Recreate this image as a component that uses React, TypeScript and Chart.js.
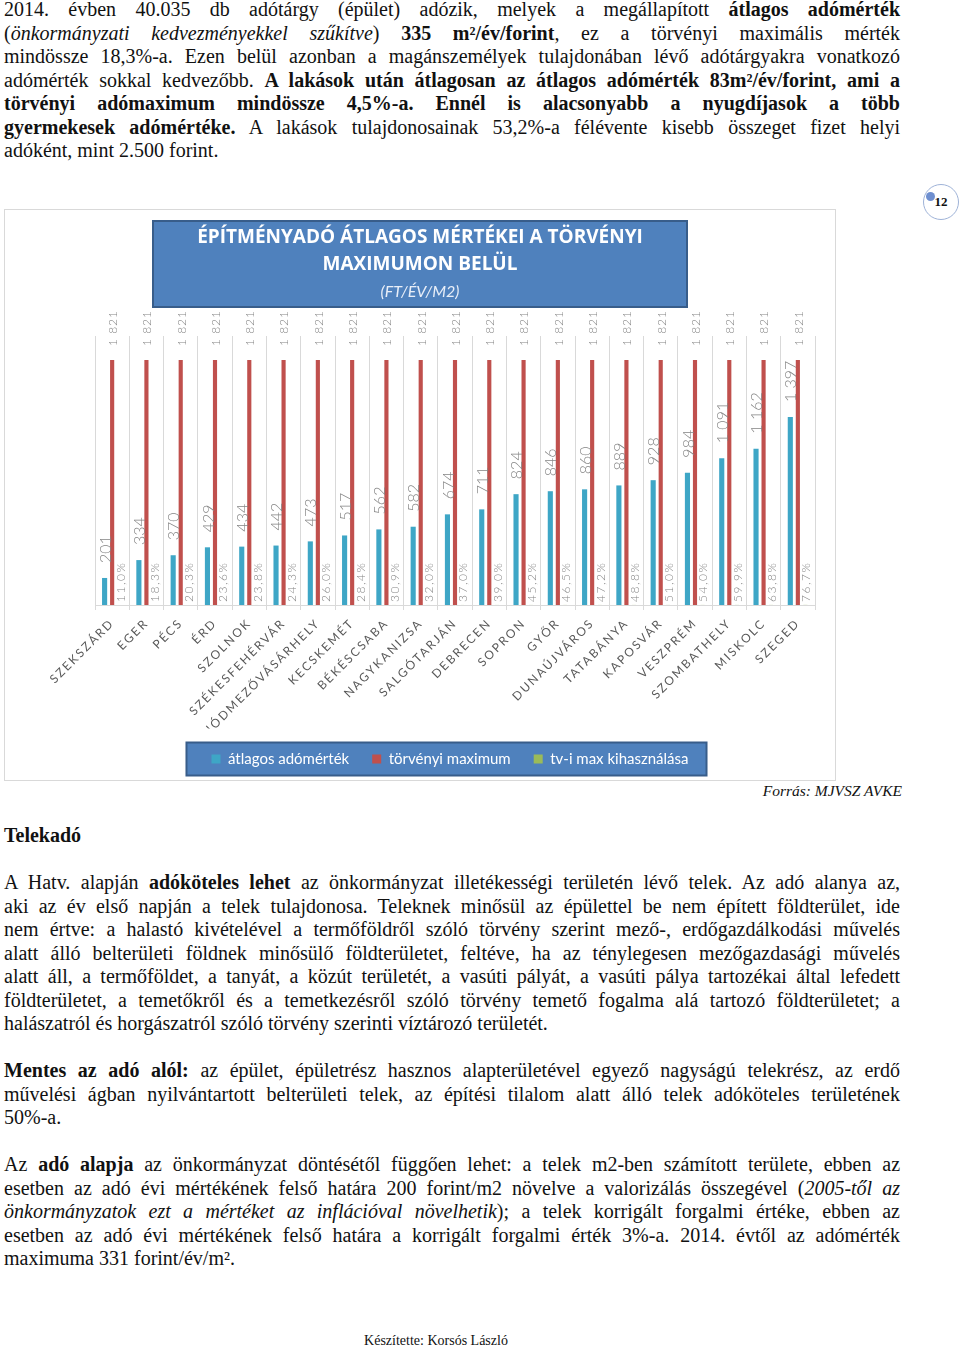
import React, { useEffect, useRef } from "react";
import { Chart, registerables } from "chart.js";

Chart.register(...registerables);

const cities = [
  "SZEKSZÁRD", "EGER", "PÉCS", "ÉRD", "SZOLNOK", "SZÉKESFEHÉRVÁR", "HÓDMEZŐVÁSÁRHELY",
  "KECSKEMÉT", "BÉKÉSCSABA", "NAGYKANIZSA", "SALGÓTARJÁN", "DEBRECEN", "SOPRON", "GYŐR",
  "DUNAÚJVÁROS", "TATABÁNYA", "KAPOSVÁR", "VESZPRÉM", "SZOMBATHELY", "MISKOLC", "SZEGED",
];
const avgRate = [201, 334, 370, 429, 434, 442, 473, 517, 562, 582, 674, 711, 824, 846, 860, 889, 928, 984, 1091, 1162, 1397];
const legalMax = [1821, 1821, 1821, 1821, 1821, 1821, 1821, 1821, 1821, 1821, 1821, 1821, 1821, 1821, 1821, 1821, 1821, 1821, 1821, 1821, 1821];
const utilizationPct = [11.0, 18.3, 20.3, 23.6, 23.8, 24.3, 26.0, 28.4, 30.9, 32.0, 37.0, 39.0, 45.2, 46.5, 47.2, 48.8, 51.0, 54.0, 59.9, 63.8, 76.7];
const seriesNames = ["átlagos adómérték", "törvényi maximum", "tv-i max kihasználása"];
const titleLines = ["ÉPÍTMÉNYADÓ ÁTLAGOS MÉRTÉKEI A TÖRVÉNYI", "MAXIMUMON BELÜL"];
const subtitleText = "(FT/ÉV/M2)";
const yMax = 2000;

const fmtThousands = (n: number) => String(n).replace(/\B(?=(\d{3})+(?!\d))/g, "\u00A0");
const fmtPct = (p: number) => p.toFixed(1).replace(".", ",") + "%";

const decorPlugin = {
  id: "decor",
  beforeDraw(chart: any) {
    const ctx = chart.ctx;
    ctx.letterSpacing = "0px";
    const tb = chart.titleBlock;
    if (tb) {
      const cx = chart.width / 2;
      const top = tb.top;
      const bottom = tb.bottom + 29;
      ctx.save();
      ctx.fillStyle = "#4f81bd";
      ctx.strokeStyle = "#385d8a";
      ctx.lineWidth = 2;
      ctx.fillRect(cx - 267, top, 534, bottom - top);
      ctx.strokeRect(cx - 267, top, 534, bottom - top);
      ctx.restore();
    }
  },
  afterDatasetsDraw(chart: any) {
    const ctx = chart.ctx;
    const area = chart.chartArea;
    chart.data.datasets.forEach((_ds: any, di: number) => {
      const meta = chart.getDatasetMeta(di);
      meta.data.forEach((bar: any, i: number) => {
        let text = "";
        let y = 0;
        let font = "";
        let spacing = "0px";
        if (di === 0) {
          text = fmtThousands(avgRate[i]);
          y = bar.y - 15;
          font = "300 16px Lato";
        } else if (di === 1) {
          text = fmtThousands(legalMax[i]);
          y = bar.y - 14;
          font = "300 12px Lato";
          spacing = "1px";
        } else {
          text = fmtPct(utilizationPct[i]);
          y = area.bottom - 3;
          font = "300 12px Lato";
          spacing = "1.5px";
        }
        ctx.save();
        ctx.translate(bar.x + 1, y);
        ctx.rotate(-Math.PI / 2);
        ctx.font = font;
        ctx.letterSpacing = spacing;
        ctx.fillStyle = "#858585";
        ctx.textAlign = "left";
        ctx.textBaseline = "middle";
        ctx.fillText(text, 0, 0);
        ctx.restore();
      });
    });
    ctx.letterSpacing = "2px";
  },
  afterLayout(chart: any) {
    const lg = chart.legend;
    if (lg) {
      lg.left += 30;
      lg.right += 30;
    }
  },
  afterDraw(chart: any) {
    const ctx = chart.ctx;
    ctx.letterSpacing = "0px";
    const lg = chart.legend;
    if (!lg || !lg.legendHitBoxes || !lg.legendHitBoxes.length) return;
    const hb = lg.legendHitBoxes;
    const left = Math.min(...hb.map((h: any) => h.left)) - 25;
    const right = Math.max(...hb.map((h: any) => h.left + h.width)) + 18;
    const fontSize = 15;
    const cy = lg.top + lg.options.labels.padding + fontSize / 2;
    ctx.save();
    ctx.fillStyle = "#4f81bd";
    ctx.strokeStyle = "#385d8a";
    ctx.lineWidth = 2;
    ctx.fillRect(left, cy - 16.5, right - left, 33);
    ctx.strokeRect(left, cy - 16.5, right - left, 33);
    ctx.restore();
    lg.draw();
  },
};

function ChartBox() {
  const ref = useRef<HTMLCanvasElement>(null);
  useEffect(() => {
    const canvas = ref.current;
    if (!canvas) return;
    const chart = new Chart(canvas, {
      type: "bar",
      data: {
        labels: cities,
        datasets: [
          {
            label: seriesNames[0],
            data: avgRate,
            backgroundColor: "#3ea6c6",
            borderWidth: 0,
            barPercentage: 0.68,
            categoryPercentage: 0.66,
          },
          {
            label: seriesNames[1],
            data: legalMax,
            backgroundColor: "#c0504d",
            borderWidth: 0,
            barPercentage: 0.55,
            categoryPercentage: 0.66,
          },
          {
            label: seriesNames[2],
            data: utilizationPct.map((p) => p / 100),
            backgroundColor: "#9bbb59",
            borderWidth: 0,
            barPercentage: 0.55,
            categoryPercentage: 0.66,
          },
        ],
      },
      options: {
        responsive: false,
        maintainAspectRatio: false,
        animation: false,
        events: [],
        layout: { padding: { top: 11, bottom: 3.5, left: 0, right: 0 } },
        scales: {
          x: {
            grid: { color: "#d9d9d9", offset: true, tickLength: 5, drawTicks: true },
            border: { color: "#d9d9d9" },
            ticks: {
              z: 1,
              color: "#595959",
              font: { family: "Lato", size: 12 },
              minRotation: 45,
              maxRotation: 45,
              autoSkip: false,
              padding: 6,
            },
            afterFit(scale: any) {
              scale.height = 123.5;
              scale.paddingLeft = 90;
              scale.paddingRight = 20;
            },
          },
          y: {
            display: false,
            min: 0,
            max: yMax,
          },
        },
        plugins: {
          tooltip: { enabled: false },
          title: {
            display: true,
            text: titleLines,
            color: "#ffffff",
            font: { family: "Open Sans", size: 19, weight: "bold", lineHeight: 27 / 19 },
            padding: { top: 3, bottom: 0 },
          },
          subtitle: {
            display: true,
            text: subtitleText,
            color: "#e8eef8",
            font: { family: "Lato", size: 16, style: "italic", lineHeight: 1.25 },
            padding: { top: 4, bottom: 34 },
          },
          legend: {
            display: true,
            position: "bottom",
            labels: {
              color: "#ffffff",
              font: { family: "Lato", size: 15 },
              boxWidth: 9,
              boxHeight: 9,
              padding: 23,
            },
          },
        },
      } as any,
      plugins: [decorPlugin as any],
    });
    return () => chart.destroy();
  }, []);
  return <canvas ref={ref} width={830} height={570} style={{ display: "block", width: 830, height: 570 }} />;
}

const LH = 23.5;

function Para({ top, lines }: { top: number; lines: React.ReactNode[] }) {
  return (
    <div style={{ position: "absolute", left: 4, top, width: 896 }}>
      {lines.map((ln, i) => (
        <div
          key={i}
          style={{
            height: LH,
            lineHeight: LH + "px",
            textAlign: "justify",
            textAlignLast: i === lines.length - 1 ? "left" : "justify",
          } as any}
        >
          {ln}
        </div>
      ))}
    </div>
  );
}

export default function App() {
  const p1 = [
    <>2014. évben 40.035 db adótárgy (épület) adózik, melyek a megállapított <b>átlagos adómérték</b></>,
    <>(<i>önkormányzati kedvezményekkel szűkítve</i>) <b>335 m²/év/forint</b>, ez a törvényi maximális mérték</>,
    <>mindössze 18,3%-a. Ezen belül azonban a magánszemélyek tulajdonában lévő adótárgyakra vonatkozó</>,
    <>adómérték sokkal kedvezőbb. <b>A lakások után átlagosan az átlagos adómérték 83m²/év/forint, ami a</b></>,
    <><b>törvényi adómaximum mindössze 4,5%-a. Ennél is alacsonyabb a nyugdíjasok a több</b></>,
    <><b>gyermekesek adómértéke.</b> A lakások tulajdonosainak 53,2%-a félévente kisebb összeget fizet helyi</>,
    <>adóként, mint 2.500 forint.</>,
  ];
  const p2 = [
    <>A Hatv. alapján <b>adóköteles lehet</b> az önkormányzat illetékességi területén lévő telek. Az adó alanya az,</>,
    <>aki az év első napján a telek tulajdonosa. Teleknek minősül az épülettel be nem épített földterület, ide</>,
    <>nem értve: a halastó kivételével a termőföldről szóló törvény szerint mező-, erdőgazdálkodási művelés</>,
    <>alatt álló belterületi földnek minősülő földterületet, feltéve, ha az ténylegesen mezőgazdasági művelés</>,
    <>alatt áll, a termőföldet, a tanyát, a közút területét, a vasúti pályát, a vasúti pálya tartozékai által lefedett</>,
    <>földterületet, a temetőkről és a temetkezésről szóló törvény temető fogalma alá tartozó földterületet; a</>,
    <>halászatról és horgászatról szóló törvény szerinti víztározó területét.</>,
  ];
  const p3 = [
    <><b>Mentes az adó alól:</b> az épület, épületrész hasznos alapterületével egyező nagyságú telekrész, az erdő</>,
    <>művelési ágban nyilvántartott belterületi telek, az építési tilalom alatt álló telek adóköteles területének</>,
    <>50%-a.</>,
  ];
  const p4 = [
    <>Az <b>adó alapja</b> az önkormányzat döntésétől függően lehet: a telek m2-ben számított területe, ebben az</>,
    <>esetben az adó évi mértékének felső határa 200 forint/m2 növelve a valorizálás összegével (<i>2005-től az</i></>,
    <><i>önkormányzatok ezt a mértéket az inflációval növelhetik</i>); a telek korrigált forgalmi értéke, ebben az</>,
    <>esetben az adó évi mértékének felső határa a korrigált forgalmi érték 3%-a. 2014. évtől az adómérték</>,
    <>maximuma 331 forint/év/m².</>,
  ];
  return (
    <div
      style={{
        position: "absolute",
        left: 0,
        top: 0,
        width: 960,
        height: 1347,
        overflow: "hidden",
        background: "#ffffff",
        color: "#111",
        fontFamily: '"Liberation Serif", serif',
        fontSize: 20,
      }}
    >
      <Para top={-2} lines={p1} />

      <div
        style={{
          position: "absolute",
          left: 4,
          top: 209,
          width: 832,
          height: 572,
          border: "1px solid #d9d9d9",
          boxSizing: "border-box",
          background: "#fff",
        }}
      >
        <ChartBox />
      </div>

      <div
        style={{
          position: "absolute",
          left: 923,
          top: 184,
          width: 34,
          height: 34,
          borderRadius: "50%",
          border: "1px solid #9fb3d8",
          fontWeight: "bold",
          fontSize: 13,
          lineHeight: "34px",
          textAlign: "center",
        }}
      >
        12
      </div>
      <div
        style={{
          position: "absolute",
          left: 926,
          top: 192,
          width: 9,
          height: 9,
          borderRadius: "50%",
          background: "#6e8fd0",
        }}
      />

      <div
        style={{
          position: "absolute",
          right: 58,
          top: 780,
          fontStyle: "italic",
          fontSize: 15.5,
          lineHeight: "22px",
        }}
      >
        Forrás: MJVSZ AVKE
      </div>

      <div style={{ position: "absolute", left: 4, top: 824, fontWeight: "bold", lineHeight: LH + "px" }}>Telekadó</div>

      <Para top={871} lines={p2} />
      <Para top={1059} lines={p3} />
      <Para top={1153} lines={p4} />

      <div
        style={{
          position: "absolute",
          left: 0,
          width: 872,
          top: 1332,
          textAlign: "center",
          fontSize: 14,
          lineHeight: "18px",
        }}
      >
        Készítette: Korsós László
      </div>
    </div>
  );
}
